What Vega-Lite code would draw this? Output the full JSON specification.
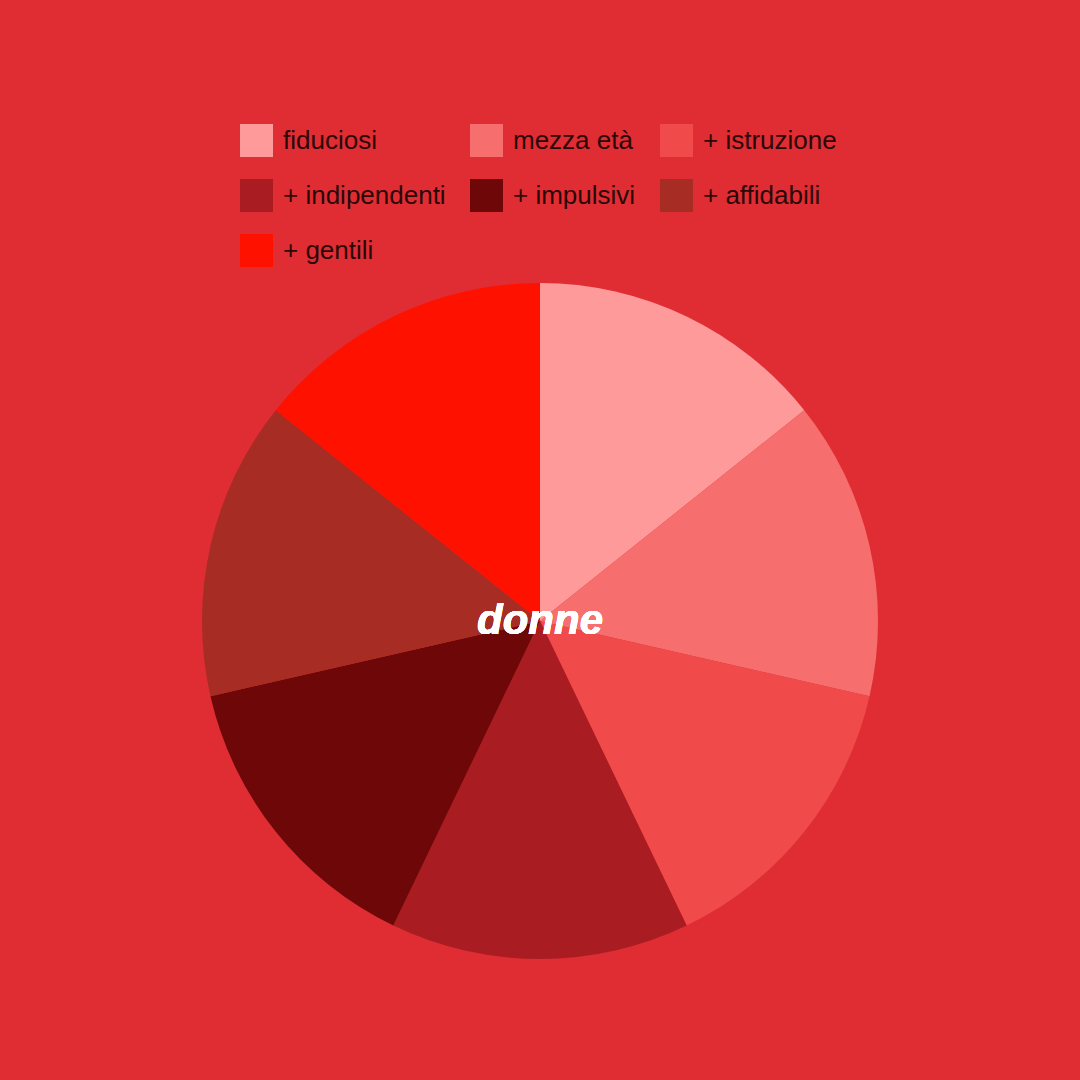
{
  "$schema": "https://vega.github.io/schema/vega-lite/v6.json",
  "width": 1080,
  "height": 918,
  "autosize": {"type": "none"},
  "padding": {"top": 162, "left": 0, "right": 0, "bottom": 0},
  "background": "#DF2D33",
  "config": {"view": {"stroke": null}},
  "data": {
    "values": [
      {"categoria": "fiduciosi", "valore": 1, "ordine": 1},
      {"categoria": "mezza età", "valore": 1, "ordine": 2},
      {"categoria": "+ istruzione", "valore": 1, "ordine": 3},
      {"categoria": "+ indipendenti", "valore": 1, "ordine": 4},
      {"categoria": "+ impulsivi", "valore": 1, "ordine": 5},
      {"categoria": "+ affidabili", "valore": 1, "ordine": 6},
      {"categoria": "+ gentili", "valore": 1, "ordine": 7}
    ]
  },
  "layer": [
    {
      "mark": {"type": "arc", "outerRadius": 338, "stroke": null},
      "encoding": {
        "theta": {"field": "valore", "type": "quantitative", "stack": true},
        "order": {"field": "ordine", "type": "quantitative"},
        "color": {
          "field": "categoria",
          "type": "nominal",
          "scale": {
            "domain": ["fiduciosi", "mezza età", "+ istruzione", "+ indipendenti", "+ impulsivi", "+ affidabili", "+ gentili"],
            "range": ["#FF9A9A", "#F76E6E", "#F04A4A", "#A91D22", "#6E0808", "#A62C24", "#FF1100"]
          },
          "legend": {
            "title": null,
            "orient": "none",
            "legendX": 240,
            "legendY": -38,
            "direction": "horizontal",
            "columns": 3,
            "columnPadding": 24,
            "rowPadding": 22,
            "symbolType": "square",
            "symbolSize": 1089,
            "symbolStrokeWidth": 0,
            "symbolOpacity": 1,
            "labelFont": "Liberation Sans",
            "labelFontSize": 26,
            "labelColor": "#2A0808",
            "labelOffset": 10,
            "labelLimit": 400,
            "padding": 0
          }
        }
      }
    },
    {
      "mark": {
        "type": "text",
        "text": "donne",
        "font": "Liberation Sans",
        "fontSize": 42,
        "fontWeight": "bold",
        "fontStyle": "italic",
        "color": "#FFFFFF",
        "align": "center",
        "baseline": "middle"
      },
      "encoding": {}
    }
  ]
}
